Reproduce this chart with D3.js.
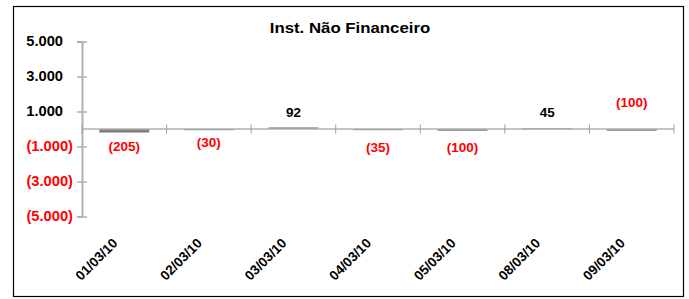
<!DOCTYPE html>
<head>
  <meta charset="utf-8">
  <title>Inst. Não Financeiro</title>
  <style>
    body { margin: 0; background: #fff; }
    text { font-family: "Liberation Sans", Arial, sans-serif; font-weight: bold; }
  </style>
</head>
<body>
<script src="https://d3js.org/d3.v7.min.js"></script>
<script>
// chart data
var title = "Inst. Não Financeiro";
var dates = ["01/03/10", "02/03/10", "03/03/10", "04/03/10", "05/03/10", "08/03/10", "09/03/10"];
var values = [-205, -30, 92, -35, -100, 45, -100];
var yTicks = [5000, 3000, 1000, -1000, -3000, -5000];

// label nudges (px) as placed by hand in the original
var labelDy = [18, 14, -16, 19, 19, -16, -26];

var width = 689, height = 299;

var svg = d3.select("body").append("svg")
    .attr("width", width)
    .attr("height", height);

// widen text a little, the original font renders wider
function stretch(sel, k) {
  sel.each(function() {
    var len = this.getComputedTextLength();
    d3.select(this).attr("textLength", len * k).attr("lengthAdjust", "spacingAndGlyphs");
  });
}

// outer frame
svg.append("rect")
    .attr("x", 13.5).attr("y", 6.5)
    .attr("width", 670).attr("height", 290)
    .attr("fill", "none")
    .attr("stroke", "#000")
    .attr("stroke-width", 1.2);

var x = d3.scaleBand()
    .domain(dates)
    .range([82, 674])
    .paddingInner(0.41)
    .paddingOuter(0.205);

var y = d3.scaleLinear()
    .domain([-5000, 5000])
    .range([216.5, 41.5]);

// number format 1.000 / (1.000)
function fmt(v) {
  var s = d3.format(",")(Math.abs(v)).replace(/,/g, ".");
  return v < 0 ? "(" + s + ")" : s;
}

// title
svg.append("text")
    .attr("x", 350)
    .attr("y", 33)
    .attr("text-anchor", "middle")
    .style("font-size", "15px")
    .text(title)
    .call(stretch, 1.12);

// y axis
var yAxis = svg.append("g")
    .attr("transform", "translate(82,0)")
    .call(d3.axisLeft(y).tickValues(yTicks).tickSize(5).tickFormat(fmt));
yAxis.select(".domain").attr("stroke", "#b0b0b0").attr("stroke-width", 2);
yAxis.selectAll(".tick line").attr("stroke", "#b0b0b0").attr("stroke-width", 1.5).attr("x2", 5).attr("x1", -5);
yAxis.selectAll(".tick text")
    .attr("x", function(d) { return d < 0 ? -9 : -19; })
    .style("font-size", "14px")
    .style("font-family", "Liberation Sans, Arial, sans-serif")
    .style("font-weight", "bold")
    .attr("fill", function(d) { return d < 0 ? "#ff0000" : "#000"; })
    .call(stretch, 1.05);

// bars
svg.selectAll(".bar")
    .data(values)
  .enter().append("rect")
    .attr("class", "bar")
    .attr("x", function(d, i) { return x(dates[i]); })
    .attr("width", x.bandwidth())
    .attr("y", function(d) { return Math.min(y(d), y(0)); })
    .attr("height", function(d) { return Math.max(1.2, Math.abs(y(d) - y(0))); })
    .attr("fill", "#808080");

// category axis at zero
var step = x.step();
svg.append("line")
    .attr("x1", 82).attr("x2", 674)
    .attr("y1", y(0)).attr("y2", y(0))
    .attr("stroke", "#b0b0b0").attr("stroke-width", 1.5);
svg.selectAll(".xtick")
    .data(d3.range(dates.length + 1))
  .enter().append("line")
    .attr("class", "xtick")
    .attr("x1", function(i) { return 82 + i * step; })
    .attr("x2", function(i) { return 82 + i * step; })
    .attr("y1", y(0) - 4.5).attr("y2", y(0) + 4.5)
    .attr("stroke", "#a0a0a0").attr("stroke-width", 1);

// category labels
svg.selectAll(".xlabel")
    .data(dates)
  .enter().append("text")
    .attr("class", "xlabel")
    .attr("text-anchor", "end")
    .attr("transform", function(d) {
      return "translate(" + (x(d) + x.bandwidth() / 2 - 6) + ",244) rotate(-45)";
    })
    .style("font-size", "13.5px")
    .text(function(d) { return d; });

// value labels
svg.selectAll(".vlabel")
    .data(values)
  .enter().append("text")
    .attr("class", "vlabel")
    .attr("text-anchor", "middle")
    .attr("x", function(d, i) { return x(dates[i]) + x.bandwidth() / 2; })
    .attr("y", function(d, i) { return y(0) + labelDy[i] + 3.5; })
    .style("font-size", "13.5px")
    .attr("fill", function(d) { return d < 0 ? "#ff0000" : "#000"; })
    .text(fmt);
</script>
</body>
